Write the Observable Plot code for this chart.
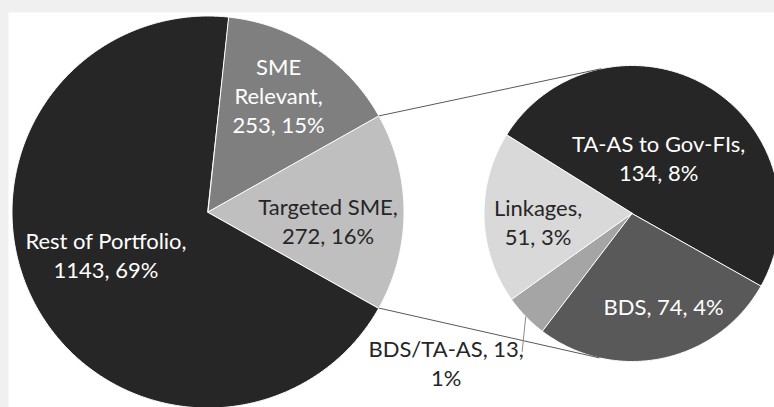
<!DOCTYPE html>
<html>
<head>
<meta charset="utf-8">
<script src="https://cdn.jsdelivr.net/npm/d3@7"></script>
<script src="https://cdn.jsdelivr.net/npm/@observablehq/plot@0.6"></script>
<style>
  html, body { margin: 0; padding: 0; background: #f0f0f0; }
  #chart svg { display: block; }
</style>
</head>
<body>
<div id="chart"></div>
<script>
// ---- data ----
const mainCategories = ["Rest of Portfolio", "SME Relevant", "Targeted SME"];
const mainValues = [1143, 253, 272];
const mainColors = ["#262626", "#7f7f7f", "#bfbfbf"];

const subCategories = ["TA-AS to Gov-FIs", "BDS", "BDS/TA-AS", "Linkages"];
const subValues = [134, 74, 13, 51];
const subColors = ["#262626", "#595959", "#a5a5a5", "#d9d9d9"];

// word indices after which a label wraps
const mainBreaks = [[2], [0, 1], [1]];
const subBreaks = [[2], [], [1], [0]];

// ---- layout ----
const W = 774, H = 407;
const mainC = [207.5, 211.5], mainR = 196;
const subC = [631.5, 213], subR = 148;
const subStartDeg = 302;
// label placement: angular nudge (deg) from slice mid-angle, radius fraction
const mainLabelPos = [[4.9, 0.563], [-2.4, 0.70], [3.8, 0.614]];
const subLabelPos = [[-5.3, 0.42], [-7.3, 0.656], [5.5, 1.607], [-3.2, 0.637]];
const fontSize = 22;

const rad = Math.PI / 180;
const polar = (c, r, a) => [c[0] + r * Math.sin(a), c[1] - r * Math.cos(a)];
const total = d3.sum(mainValues);
const pctFmt = d3.format(".0%");

const splitIndex = mainCategories.length - 1;
const splitAngle = mainValues[splitIndex] / total * 2 * Math.PI;
const mainStart = Math.PI / 2 + splitAngle / 2;
const mainArcs = d3.pie().sort(null).startAngle(mainStart).endAngle(mainStart + 2 * Math.PI)(mainValues);
const subStart = subStartDeg * rad;
const subArcs = d3.pie().sort(null).startAngle(subStart).endAngle(subStart + 2 * Math.PI)(subValues);

function slicePolys(arcs, cats, colors, c, r, prefix) {
  const pts = [];
  arcs.forEach((a, i) => {
    const key = prefix + i;
    pts.push({key, color: colors[i], x: c[0], y: c[1]});
    const n = Math.max(2, Math.ceil((a.endAngle - a.startAngle) / rad * 2));
    for (let k = 0; k <= n; k++) {
      const t = a.startAngle + (a.endAngle - a.startAngle) * k / n;
      const [x, y] = polar(c, r, t);
      pts.push({key, color: colors[i], x, y});
    }
  });
  return pts;
}
const slices = [
  ...slicePolys(mainArcs, mainCategories, mainColors, mainC, mainR, "m"),
  ...slicePolys(subArcs, subCategories, subColors, subC, subR, "s")
];

function makeLabel(name, v, breaks) {
  const words = `${name}, ${v}, ${pctFmt(v / total)}`.split(" ");
  return words.map((w, i) => w + (i === words.length - 1 ? "" : (breaks.includes(i) ? "\n" : " "))).join("");
}
function labelsFor(arcs, cats, colors, c, r, pos, breaks) {
  return arcs.map((a, i) => {
    const mid = (a.startAngle + a.endAngle) / 2;
    const [x, y] = polar(c, r * pos[i][1], mid + pos[i][0] * rad);
    const outside = pos[i][1] > 1;
    const fill = outside || d3.lab(colors[i]).l > 60 ? "#262626" : "#ffffff";
    return {x, y, text: makeLabel(cats[i], a.value, breaks[i]), fill, mid, outside};
  });
}
const labels = [
  ...labelsFor(mainArcs, mainCategories, mainColors, mainC, mainR, mainLabelPos, mainBreaks),
  ...labelsFor(subArcs, subCategories, subColors, subC, subR, subLabelPos, subBreaks)
];

// connector lines: edges of split slice -> tangent points on secondary pie
function tangent(p, c, r, upper) {
  const dx = p[0] - c[0], dy = p[1] - c[1];
  const d = Math.hypot(dx, dy);
  const th = Math.atan2(dx, -dy);
  const b = Math.acos(r / d);
  return polar(c, r, upper ? th + b : th - b);
}
const sa = mainArcs[splitIndex];
const pTop = polar(mainC, mainR, sa.startAngle);
const pBot = polar(mainC, mainR, sa.endAngle);
const tTop = tangent(pTop, subC, subR, true);
const tBot = tangent(pBot, subC, subR, false);
const connectors = [
  {x1: pTop[0], y1: pTop[1], x2: tTop[0], y2: tTop[1]},
  {x1: pBot[0], y1: pBot[1], x2: tBot[0], y2: tBot[1]}
];
// leader line for the outside label
const leaders = labels.filter(d => d.outside).map(d => {
  const [x1, y1] = polar(subC, subR, d.mid);
  return {x1, y1, x2: d.x + 76, y2: d.y - 10};
});

const chart = Plot.plot({
  width: W,
  height: H,
  margin: 0,
  x: {domain: [0, W], range: [0, W], axis: null},
  y: {domain: [0, H], range: [0, H], axis: null},
  color: {type: "identity"},
  style: {background: "#f0f0f0", fontFamily: "Lato, 'Open Sans', sans-serif"},
  marks: [
    Plot.frame({fill: "white", stroke: "none", insetLeft: 8, insetTop: 12}),
    Plot.line(slices, {x: "x", y: "y", z: "key", fill: "color", stroke: "white", strokeWidth: 1, curve: "linear-closed"}),
    Plot.link(connectors, {x1: "x1", y1: "y1", x2: "x2", y2: "y2", stroke: "#595959", strokeWidth: 1}),
    Plot.link(leaders, {x1: "x1", y1: "y1", x2: "x2", y2: "y2", stroke: "#8c8c8c", strokeWidth: 1}),
    Plot.text(labels, {x: "x", y: "y", text: "text", fill: "fill", fontSize, lineHeight: 29 / fontSize, fontFamily: "Lato"})
  ]
});
document.getElementById("chart").appendChild(chart);
</script>
</body>
</html>
